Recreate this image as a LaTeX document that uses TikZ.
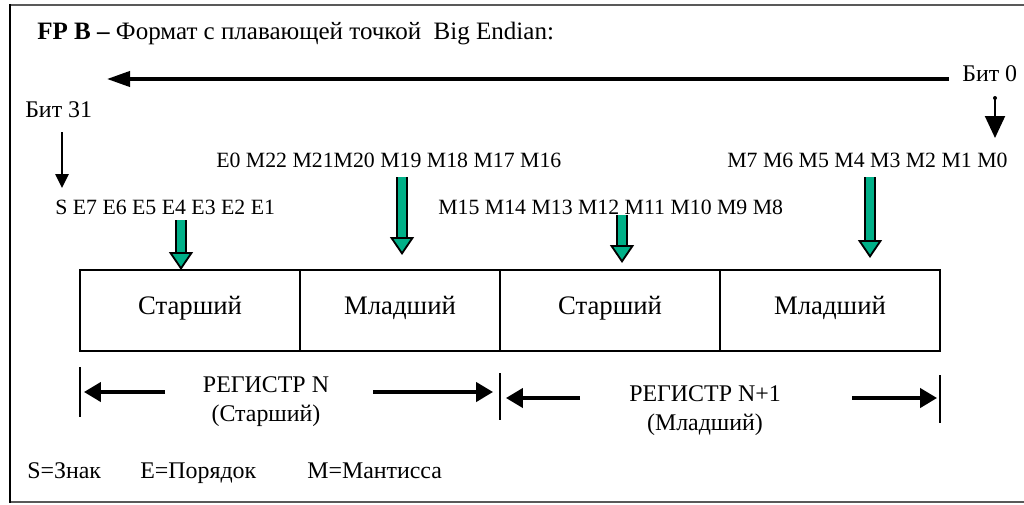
\documentclass[tikz,border=0pt]{standalone}
\usepackage{fontspec}
\setmainfont{Liberation Serif}
\usetikzlibrary{arrows.meta, positioning}
\definecolor{regGreen}{RGB}{0,176,136}
\tikzset{
  txt/.style={font=\fontsize{17}{20.5}\selectfont, inner sep=0pt},
  bits/.style={font=\fontsize{15.5}{18}\selectfont, inner sep=0pt, anchor=west},
  regbox/.style={draw, line width=1.8pt, outer sep=0pt, minimum height=2.025cm, text height=1.6ex, text depth=0.5ex, font=\fontsize{19}{22}\selectfont},
  fat/.style={draw=black, line width=1.3pt, double=regGreen, double distance=6pt, -{Triangle[length=0.45cm, width=0.6cm, fill=regGreen]}},
  dimarrow/.style={line width=2.2pt, -{Triangle[length=0.42cm, width=0.48cm]}},
  bar/.style={line width=1.8pt}
}
\begin{document}
\begin{tikzpicture}
 \useasboundingbox (0,0) rectangle (25.6,12.6);
 % frame
 \draw [black!65, line width=1.3pt] (25.7,12.475) -- (0.25,12.475);
 \draw [black!65, line width=1.3pt] (25.7,0.05) -- (0.25,0.05);
 \draw [line width=1.8pt] (0.25,12.5) -- (0.25,0.03);
 \node [txt, font=\fontsize{17.8}{21}\selectfont, anchor=west] (title) at (0.925,11.75) {\textbf{FP B –} Формат с плавающей точкой~ Big Endian:};
 % bit order
 \node [txt, anchor=west] (bit0) at (24.05,10.75) {Бит 0};
 \node [txt, anchor=west] (bit31) at (0.625,9.85) {Бит 31};
 \coordinate (dirR) at (23.725,10.625);
 \coordinate (dirL) at (2.675,10.625);
 \draw [line width=2.4pt, -{Triangle[length=0.575cm, width=0.38cm]}] (dirR) -- (dirL);
 \coordinate (b31top) at (1.55,9.3);
 \coordinate (b31tip) at (1.55,7.9);
 \draw [line width=1.4pt, -{Triangle[length=0.35cm, width=0.33cm]}] (b31top) -- (b31tip);
 \coordinate (b0top) at (24.875,10.15);
 \coordinate (b0tip) at (24.875,9.15);
 \fill (b0top) circle (0.05);
 \draw [line width=1.4pt, -{Triangle[length=0.55cm, width=0.5cm]}] (b0top) -- (b0tip);
 % bit rows
 \node [bits] (rowA) at (1.375,7.425) {S E7 E6 E5 E4 E3 E2 E1};
 \node [bits] (rowB) at (5.4,8.6) {E0 M22 M21M20 M19 M18 M17 M16};
 \node [bits] (rowC) at (10.95,7.425) {M15 M14 M13 M12 M11 M10 M9 M8};
 \node [bits] (rowD) at (18.175,8.6) {M7 M6 M5 M4 M3 M2 M1 M0};
 % registers
 \node [regbox, minimum width=5.5cm] (hiN) at (4.75,4.8375) {Старший};
 \node [regbox, minimum width=5cm, right=0pt of hiN] (loN) {Младший};
 \node [regbox, minimum width=5.5cm, right=0pt of loN] (hiN1) {Старший};
 \node [regbox, minimum width=5.5cm, right=0pt of hiN1] (loN1) {Младший};
 \coordinate (gA) at (4.525,7.1);
 \coordinate (gB) at (10.05,8.175);
 \coordinate (gC) at (15.55,7.225);
 \coordinate (gD) at (21.75,8.175);
 \draw [fat] (gA) -- (gA |- hiN.north);
 \draw [fat] (gB) -- ++(0,-1.95);
 \draw [fat] (gC) -- ++(0,-1.2);
 \draw [fat] (gD) -- ++(0,-2.025);
 % register widths
 \draw [bar] (2,3.425) -- (2,2.175);
 \draw [bar] (12.5,3.275) -- (12.5,2.1);
 \draw [bar] (23.5,3.225) -- (23.5,2.025);
 \node [txt, align=center] (regN) at (6.65,2.55) {РЕГИСТР N\\(Старший)};
 \draw [dimarrow] (4.125,2.8) -- (2.1,2.8);
 \draw [dimarrow] (9.325,2.8) -- (12.325,2.8);
 \node [txt, align=center] (regN1) at (17.625,2.325) {РЕГИСТР N+1\\(Младший)};
 \draw [dimarrow] (14.5,2.65) -- (12.65,2.65);
 \draw [dimarrow] (21.3,2.65) -- (23.425,2.65);
 % legend
 \node [txt, anchor=base west] (sgn) at (0.675,0.64) {S=Знак};
 \node [txt, anchor=base west] (expo) at (3.5,0.64) {E=Порядок};
 \node [txt, anchor=base west] (mant) at (7.675,0.64) {M=Мантисса};
\end{tikzpicture}
\end{document}
